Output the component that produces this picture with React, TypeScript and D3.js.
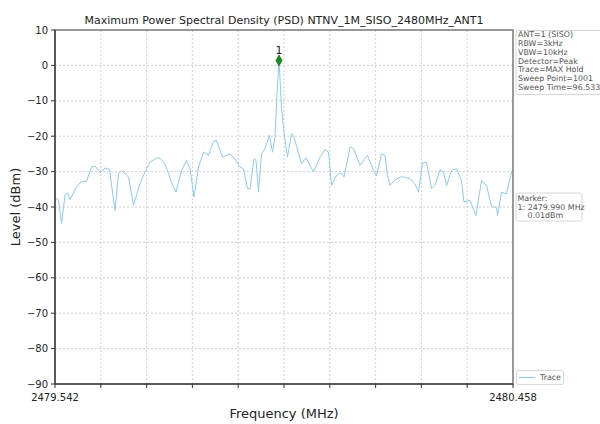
import React from "react";
import * as d3 from "d3";

const freqs = [
  2479.542, 2479.544, 2479.549, 2479.555, 2479.562, 2479.567, 2479.572, 2479.585, 2479.595, 2479.605,
  2479.615, 2479.622, 2479.632, 2479.642, 2479.651, 2479.657, 2479.662, 2479.669, 2479.675, 2479.689,
  2479.699, 2479.712, 2479.722, 2479.732, 2479.745, 2479.752, 2479.762, 2479.775, 2479.784, 2479.795,
  2479.805, 2479.812, 2479.820, 2479.829, 2479.839, 2479.849, 2479.859, 2479.865, 2479.877, 2479.892,
  2479.902, 2479.912, 2479.919, 2479.927, 2479.932, 2479.940, 2479.944, 2479.949, 2479.955, 2479.962,
  2479.971, 2479.977, 2479.982, 2479.986, 2479.990, 2479.995, 2480.000, 2480.007, 2480.015, 2480.019,
  2480.035, 2480.044, 2480.059, 2480.072, 2480.082, 2480.089, 2480.095, 2480.105, 2480.114, 2480.120,
  2480.132, 2480.139, 2480.152, 2480.167, 2480.179, 2480.185, 2480.195, 2480.202, 2480.207, 2480.212,
  2480.222, 2480.235, 2480.252, 2480.262, 2480.269, 2480.277, 2480.285, 2480.295, 2480.302, 2480.312,
  2480.319, 2480.325, 2480.335, 2480.345, 2480.355, 2480.360, 2480.372, 2480.384, 2480.395, 2480.405,
  2480.415, 2480.425, 2480.427, 2480.435, 2480.445, 2480.455, 2480.458,
];
const levels = [
  -37.0, -37.6, -38.0, -44.6, -36.7, -36.0, -37.9, -34.4, -32.7, -32.8,
  -28.7, -28.4, -30.3, -29.0, -29.4, -35.8, -41.0, -30.6, -29.7, -31.5,
  -39.5, -33.4, -30.1, -27.3, -26.2, -26.2, -27.8, -33.0, -35.8, -29.7,
  -26.8, -29.2, -37.2, -28.7, -24.5, -25.4, -21.4, -21.2, -25.9, -25.0,
  -26.4, -28.7, -29.2, -34.8, -34.8, -26.4, -26.8, -35.8, -25.0, -23.5,
  -19.8, -24.5, -20.2, -8.0, 1.4, -11.8, -19.0, -25.9, -19.3, -19.8,
  -27.8, -26.1, -30.1, -25.9, -23.8, -24.5, -33.9, -31.1, -30.3, -31.5,
  -23.1, -23.5, -28.2, -25.4, -29.7, -31.1, -25.0, -25.4, -31.1, -33.9,
  -32.3, -31.4, -32.0, -33.4, -35.8, -27.6, -27.3, -34.8, -33.9, -29.5,
  -30.2, -33.9, -29.7, -29.2, -32.5, -38.6, -38.1, -42.4, -32.5, -33.9,
  -39.8, -40.2, -42.4, -35.8, -36.3, -30.1, -29.5,
];
const yTicks = [10, 0, -10, -20, -30, -40, -50, -60, -70, -80, -90];
const xTickLabels = ["2479.542", "2480.458"];
const infoLines = [
  "ANT=1 (SISO)",
  "RBW=3kHz",
  "VBW=10kHz",
  "Detector=Peak",
  "Trace=MAX Hold",
  "Sweep Point=1001",
  "Sweep Time=96.533ms",
];
const markerLines = ["Marker:", "1: 2479.990 MHz", "    0.01dBm"];
const markerFreq = 2479.99;
const markerLevel = 1.4;
const title = "Maximum Power Spectral Density (PSD) NTNV_1M_SISO_2480MHz_ANT1";

const W = 600, H = 424;
const L = 55, R = 513, T = 30, B = 384;
const FONT = "DejaVu Sans, sans-serif";
const TRACE = "#8ccbf5";

export default function App() {
  const x = d3.scaleLinear().domain([2479.542, 2480.458]).range([L, R]);
  const y = d3.scaleLinear().domain([-90, 10]).range([B, T]);
  const xGrid = d3.range(11).map((i) => 2479.542 + (i * 0.916) / 10);
  const line = d3
    .line<number>()
    .x((_, i) => x(freqs[i]))
    .y((d) => y(d))(levels) as string;
  const mx = x(markerFreq), my = y(markerLevel);

  return (
    <svg width={W} height={H} style={{ position: "absolute", left: 0, top: 0, background: "#fff" }} fontFamily={FONT}>
      <rect x={0} y={0} width={W} height={H} fill="#fff" />
      {/* grid */}
      {xGrid.slice(1, -1).map((f, i) => (
        <line key={"gx" + i} x1={x(f)} x2={x(f)} y1={T} y2={B} stroke="#c4c4c4" strokeWidth={0.8} strokeDasharray="2,2" />
      ))}
      {yTicks.slice(1, -1).map((v) => (
        <line key={"gy" + v} x1={L} x2={R} y1={y(v)} y2={y(v)} stroke="#c4c4c4" strokeWidth={0.8} strokeDasharray="2,2" />
      ))}
      {/* trace */}
      <path d={line} fill="none" stroke={TRACE} strokeWidth={1} />
      {/* frame */}
      <rect x={L} y={T} width={R - L} height={B - T} fill="none" stroke="#777" strokeWidth={1.5} />
      <line x1={L} x2={L} y1={T} y2={B} stroke="#444" strokeWidth={1.5} />
      <line x1={L} x2={R} y1={B} y2={B} stroke="#444" strokeWidth={1.5} />
      {/* y ticks */}
      {yTicks.map((v) => (
        <g key={"yt" + v}>
          <line x1={L - 4} x2={L} y1={y(v)} y2={y(v)} stroke="#333" strokeWidth={1} />
          <text x={L - 7} y={y(v)} dy="0.35em" textAnchor="end" fontSize={10} fill="#222">
            {v < 0 ? "\u2212" + Math.abs(v) : String(v)}
          </text>
        </g>
      ))}
      {/* x ticks */}
      {xGrid.map((f, i) => (
        <line key={"xt" + i} x1={x(f)} x2={x(f)} y1={B} y2={B + 4} stroke="#333" strokeWidth={1} />
      ))}
      <text x={x(2479.542)} y={B + 17} textAnchor="middle" fontSize={10} fill="#222">{xTickLabels[0]}</text>
      <text x={x(2480.458)} y={B + 17} textAnchor="middle" fontSize={10} fill="#222">{xTickLabels[1]}</text>
      {/* labels */}
      <text x={(L + R) / 2} y={418} textAnchor="middle" fontSize={13} fill="#222">Frequency (MHz)</text>
      <text transform={`translate(20,${(T + B) / 2}) rotate(-90)`} textAnchor="middle" fontSize={13} fill="#222">Level (dBm)</text>
      <text x={(L + R) / 2} y={24} textAnchor="middle" fontSize={11} fill="#222">{title}</text>
      {/* marker */}
      <path d={d3.symbol().type(d3.symbolDiamond).size(36)() as string} transform={`translate(${mx},${my})`} fill="#1a8a1a" stroke="#0c6b0c" strokeWidth={0.5} />
      <text x={mx} y={my - 6} textAnchor="middle" fontSize={11} fill="#222">1</text>
      {/* info box */}
      <rect x={516} y={30.5} width={90} height={64} fill="#fff" stroke="#ccc" strokeWidth={0.8} rx={2} />
      {infoLines.map((s, i) => (
        <text key={"il" + i} x={518} y={34.5 + i * 8.8} dy="0.35em" fontSize={7.9} fill="#555">{s}</text>
      ))}
      {/* marker box */}
      <rect x={516} y={193} width={66} height={28} fill="#fff" stroke="#ccc" strokeWidth={0.8} rx={2} />
      {markerLines.map((s, i) => (
        <text key={"ml" + i} x={517.5} y={198.3 + i * 8.6} dy="0.35em" fontSize={7.9} fill="#555" style={{ whiteSpace: "pre" }}>{s}</text>
      ))}
      {/* legend */}
      <rect x={516.5} y={370.5} width={47} height={14} fill="#fff" stroke="#ccc" strokeWidth={0.8} rx={2} />
      <line x1={519} x2={535} y1={377.5} y2={377.5} stroke={TRACE} strokeWidth={1.2} />
      <text x={540} y={377.5} dy="0.35em" fontSize={7.9} fill="#555">Trace</text>
    </svg>
  );
}
